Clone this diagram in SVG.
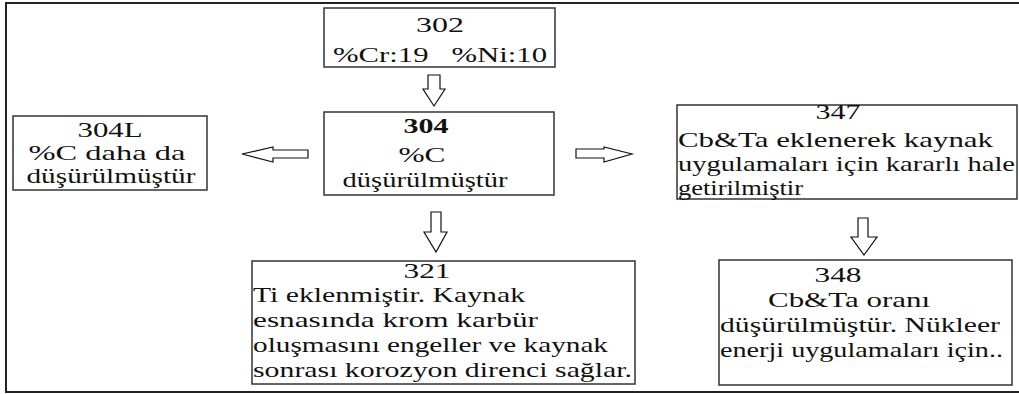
<svg xmlns="http://www.w3.org/2000/svg" width="1019" height="394" viewBox="0 0 1019 394">
<style>
.box{fill:#fff;stroke:#333;stroke-width:1.5}
.frame{fill:none;stroke:#222;stroke-width:2}
text{font-family:'Liberation Serif','Times New Roman',serif;font-size:21px;fill:#111}
.b{font-weight:bold}
.m{text-anchor:middle}
.arr{fill:#fff;stroke:#111;stroke-width:1.2;stroke-linejoin:miter}
</style>
<rect x="0" y="0" width="1019" height="394" fill="#fff"/>
<rect class="frame" x="6" y="3" width="1030" height="389"/>
<g id="n302">
<rect class="box" x="324" y="8" width="231" height="59"/>
<text class="m" x="440" y="32" textLength="48" lengthAdjust="spacingAndGlyphs">302</text>
<text class="m" x="440" y="62" textLength="214" lengthAdjust="spacingAndGlyphs" xml:space="preserve">%Cr:19   %Ni:10</text>
</g>

<g id="n304">
<rect class="box" x="324" y="112" width="230" height="83"/>
<text class="m b" x="426" y="133" textLength="45" lengthAdjust="spacingAndGlyphs">304</text>
<text class="m" x="422" y="162" textLength="47" lengthAdjust="spacingAndGlyphs">%C</text>
<text class="m" x="425" y="187" textLength="165" lengthAdjust="spacingAndGlyphs">düşürülmüştür</text>
</g>

<g id="n304L">
<rect class="box" x="13" y="116" width="194" height="74"/>
<text class="m" x="110" y="137" textLength="65" lengthAdjust="spacingAndGlyphs">304L</text>
<text class="m" x="107" y="160" textLength="157" lengthAdjust="spacingAndGlyphs">%C daha da</text>
<text class="m" x="111" y="183" textLength="169" lengthAdjust="spacingAndGlyphs">düşürülmüştür</text>
</g>

<g id="n347">
<rect class="box" x="677" y="105" width="340" height="94"/>
<text class="m" x="838" y="119" textLength="45" lengthAdjust="spacingAndGlyphs">347</text>
<text x="678" y="147" textLength="315" lengthAdjust="spacingAndGlyphs">Cb&amp;Ta eklenerek kaynak</text>
<text x="678" y="171" textLength="337" lengthAdjust="spacingAndGlyphs">uygulamaları için kararlı hale</text>
<text x="678" y="195" textLength="125" lengthAdjust="spacingAndGlyphs">getirilmiştir</text>
</g>

<g id="n321">
<rect class="box" x="252" y="261" width="383" height="123"/>
<text class="m" x="427" y="278" textLength="47" lengthAdjust="spacingAndGlyphs">321</text>
<text x="253" y="302" textLength="272" lengthAdjust="spacingAndGlyphs">Ti eklenmiştir. Kaynak</text>
<text x="253" y="327" textLength="285" lengthAdjust="spacingAndGlyphs">esnasında krom karbür</text>
<text x="253" y="352" textLength="355" lengthAdjust="spacingAndGlyphs">oluşmasını engeller ve kaynak</text>
<text x="253" y="377" textLength="379" lengthAdjust="spacingAndGlyphs">sonrası korozyon direnci sağlar.</text>
</g>

<g id="n348">
<rect class="box" x="719" y="260" width="293" height="125"/>
<text class="m" x="838" y="282" textLength="47" lengthAdjust="spacingAndGlyphs">348</text>
<text x="768" y="307" textLength="162" lengthAdjust="spacingAndGlyphs">Cb&amp;Ta oranı</text>
<text x="720" y="332" textLength="280" lengthAdjust="spacingAndGlyphs">düşürülmüştür. Nükleer</text>
<text x="720" y="357" textLength="283" lengthAdjust="spacingAndGlyphs">enerji uygulamaları için..</text>
</g>

<g id="connectors">
<polygon class="arr" points="428,75 440,75 440,89 445,89 434,106 423,89 428,89"/>
<polygon class="arr" points="431,212 441,212 441,232 447,232 436,252 424,232 431,232"/>
<polygon class="arr" points="858,218 868,218 868,237 877,237 864,255 851,237 858,237"/>
<polygon class="arr" points="308,150 308,158 273,158 273,162 242,154 273,147 273,150"/>
<polygon class="arr" points="576,149 604,149 604,147 632,154 604,162 604,158 576,158"/>
</g>
</svg>
